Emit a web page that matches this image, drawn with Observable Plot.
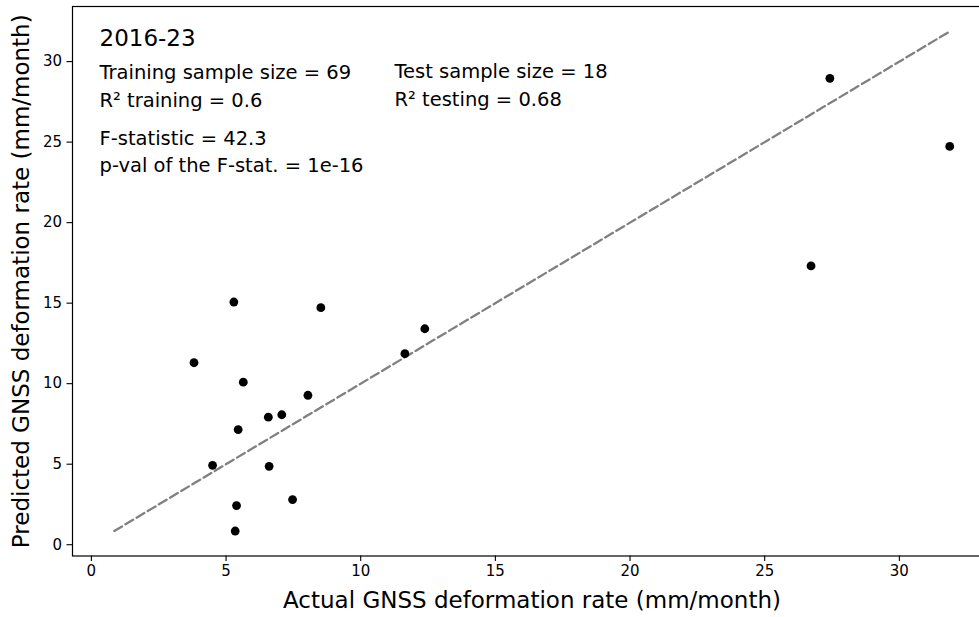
<!DOCTYPE html>
<html>
<head>
<meta charset="utf-8">
<script src="https://cdn.jsdelivr.net/npm/d3@7"></script>
<script src="https://cdn.jsdelivr.net/npm/@observablehq/plot@0.6"></script>
<style>
  html, body { margin: 0; padding: 0; background: #fff; overflow: hidden; }
  #chart svg { display: block; font-family: "DejaVu Sans", sans-serif; }
</style>
</head>
<body>
<div id="chart"></div>
<script>
// Actual (x) vs predicted (y) GNSS deformation rate, test set (mm/month)
const actual    = [3.81, 4.50, 5.29, 5.39, 5.34, 5.45, 5.64, 6.57, 6.60, 7.07, 7.47, 8.04, 8.52, 11.64, 12.38, 26.72, 27.42, 31.87];
const predicted = [11.30, 4.93, 15.07, 2.43, 0.85, 7.15, 10.09, 7.92, 4.87, 8.07, 2.80, 9.28, 14.72, 11.86, 13.41, 17.31, 28.96, 24.73];
const xTicks = [0, 5, 10, 15, 20, 25, 30];
const yTicks = [0, 5, 10, 15, 20, 25, 30];
const periodLabel = "2016-23";
const trainingLines = ["Training sample size = 69", "R\u00B2 training = 0.6"];
const testLines = ["Test sample size = 18", "R\u00B2 testing = 0.68"];
const statLines = ["F-statistic = 42.3", "p-val of the F-stat. = 1e-16"];
const xLabel = "Actual GNSS deformation rate (mm/month)";
const yLabel = "Predicted GNSS deformation rate (mm/month)";

const points = actual.map((a, i) => ({actual: a, predicted: predicted[i]}));
const lo = Math.min(d3.min(actual), d3.min(predicted));
const hi = Math.max(d3.max(actual), d3.max(predicted));
const identity = [{v: lo}, {v: hi}];
const pad = (hi - lo) * 0.05;

const font = "DejaVu Sans";
const txt = (s, dx, dy, size) => Plot.text([s], {
  text: d => d, frameAnchor: "top-left", textAnchor: "start", lineAnchor: "bottom",
  dx, dy, fontSize: size, fill: "black", fontFamily: font
});

const chart = Plot.plot({
  width: 979,
  height: 617,
  marginLeft: 72,
  marginRight: -12,
  marginTop: 6,
  marginBottom: 61.5,
  style: {fontFamily: font, background: "white", overflow: "hidden"},
  x: {domain: [lo - pad, hi + pad], ticks: xTicks, label: null},
  y: {domain: [lo - pad, hi + pad], ticks: yTicks, label: null},
  marks: [
    Plot.axisX({ticks: xTicks, tickSize: 5.5, tickPadding: 4, fontSize: 15, label: null, stroke: "black", strokeWidth: 1.1, tickFormat: d => String(d)}),
    Plot.axisY({ticks: yTicks, tickSize: 5.5, tickPadding: 5, fontSize: 15, label: null, stroke: "black", strokeWidth: 1.1, tickFormat: d => String(d)}),
    Plot.line(identity, {x: "v", y: "v", stroke: "#808080", strokeWidth: 2.3, strokeDasharray: "9,4"}),
    Plot.dot(points, {x: "actual", y: "predicted", r: 4.4, fill: "black", stroke: "none"}),
    Plot.frame({stroke: "black", strokeWidth: 1.2}),
    txt(periodLabel, 27, 39.5, 23),
    txt(trainingLines[0], 27, 72.5, 19.5),
    txt(trainingLines[1], 27, 100.5, 19.5),
    txt(testLines[0], 322, 71.5, 19.5),
    txt(testLines[1], 322, 99.5, 19.5),
    txt(statLines[0], 27, 138.5, 19.5),
    txt(statLines[1], 27, 165.5, 19.5),
    Plot.text([xLabel], {text: d => d, frameAnchor: "bottom", textAnchor: "middle", lineAnchor: "bottom", dy: 52, fontSize: 23, fill: "black", fontFamily: font}),
    Plot.text([yLabel], {text: d => d, frameAnchor: "left", textAnchor: "middle", lineAnchor: "middle", rotate: -90, dx: -51, fontSize: 23, fill: "black", fontFamily: font})
  ]
});
document.getElementById("chart").appendChild(chart);
</script>
</body>
</html>
